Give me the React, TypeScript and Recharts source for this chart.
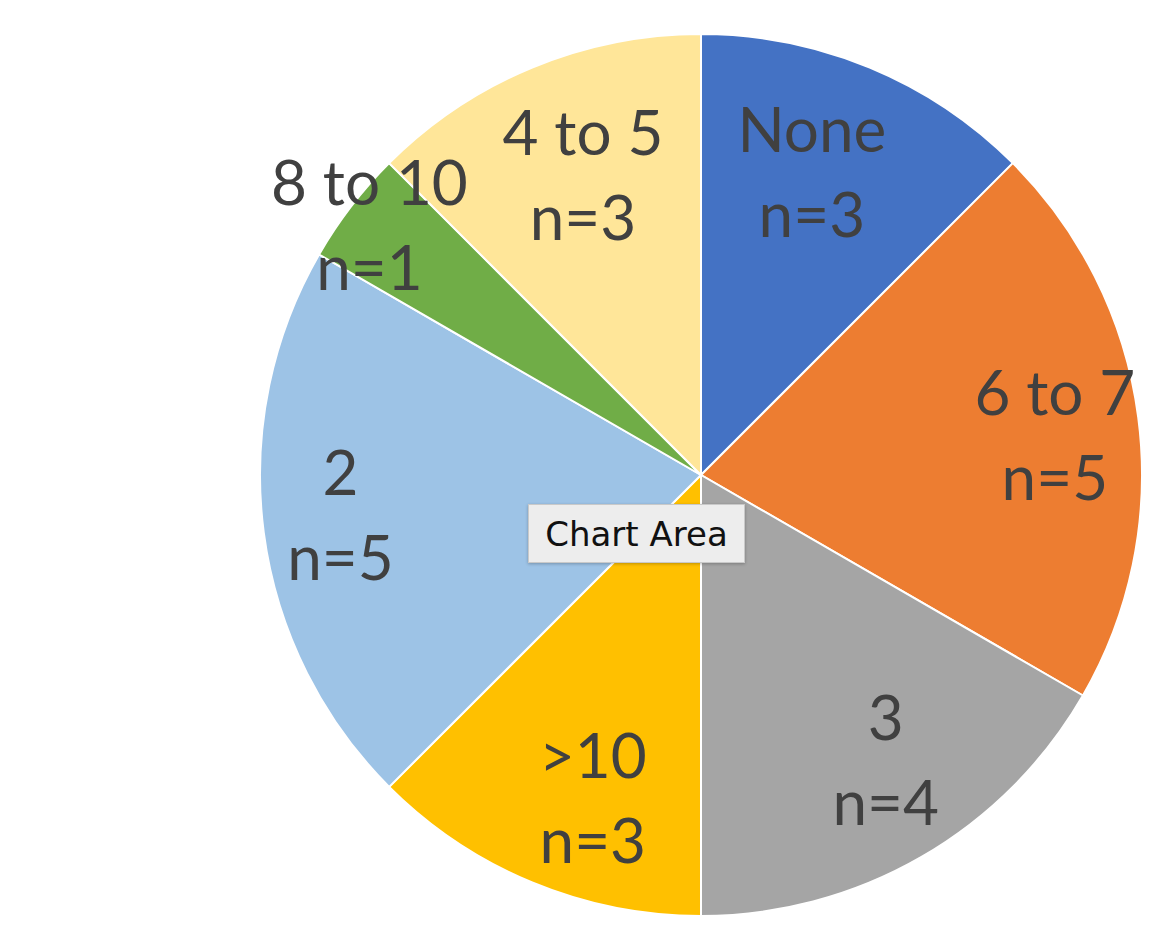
import { PieChart, Pie, Cell } from "recharts"

// number of responses per bucket, clockwise from 12 o'clock
const categories = ["None", "6 to 7", "3", ">10", "2", "8 to 10", "4 to 5"]
const counts = [3, 5, 4, 3, 5, 1, 3]
const colors = ["#4472C4", "#ED7D31", "#A5A5A5", "#FFC000", "#9DC3E6", "#70AD47", "#FFE699"]

// label placement: share of the outer radius, and a clockwise nudge in degrees
const labelRadius = [0.728, 0.807, 0.773, 0.777, 0.823, 0.939, 0.727]
const labelNudge = [-2.3, 1.4, -2.8, -4.1, 0.9, -0.7, 0.9]

const data = categories.map((name, i) => ({ name, value: counts[i] }))

const RAD = Math.PI / 180

const renderLabel = (props: any) => {
  const { cx, cy, midAngle, outerRadius, index, name, value } = props
  const r = outerRadius * labelRadius[index]
  const a = (midAngle - labelNudge[index]) * RAD
  const x = cx + r * Math.cos(-a)
  const y = cy + r * Math.sin(-a)
  return (
    <text
      x={x}
      y={y}
      fill="#404040"
      textAnchor="middle"
      style={{ fontFamily: "Lato, sans-serif", fontSize: 62 }}
    >
      <tspan x={x} y={y - 22}>{name}</tspan>
      <tspan x={x} y={y + 63}>{`n=${value}`}</tspan>
    </text>
  )
}

export default function App() {
  return (
    <div style={{ position: "absolute", left: 0, top: 0, width: 1153, height: 940, background: "#fff" }}>
      <PieChart width={1153} height={940} margin={{ top: 0, right: 0, bottom: 0, left: 0 }}>
        <Pie
          data={data}
          dataKey="value"
          nameKey="name"
          cx={701}
          cy={475}
          outerRadius={441}
          startAngle={90}
          endAngle={-270}
          stroke="#fff"
          strokeWidth={2}
          label={renderLabel}
          labelLine={false}
          isAnimationActive={false}
        >
          {data.map((d, i) => (
            <Cell key={d.name} fill={colors[i]} />
          ))}
        </Pie>
      </PieChart>
      <div
        style={{
          position: "absolute",
          left: 528,
          top: 504,
          width: 217,
          height: 59,
          boxSizing: "border-box",
          background: "#ededed",
          border: "1px solid #c9c9c9",
          boxShadow: "0 1px 3px rgba(0,0,0,0.25)",
          fontFamily: "'DejaVu Sans', sans-serif",
          fontSize: 34,
          color: "#111",
          display: "flex",
          alignItems: "center",
          justifyContent: "center",
        }}
      >
        Chart Area
      </div>
    </div>
  )
}
